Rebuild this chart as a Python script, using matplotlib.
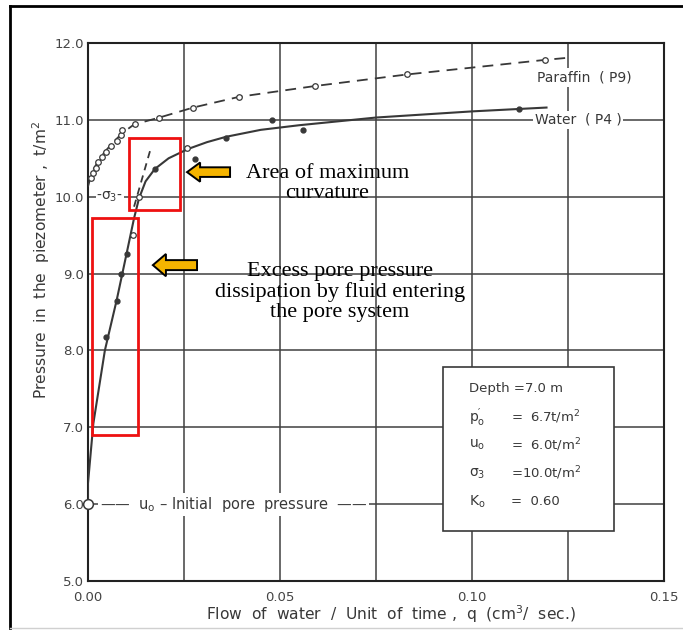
import matplotlib.pyplot as plt
from matplotlib.lines import Line2D
from matplotlib.patches import Rectangle, FancyArrow

# paraffin (P9) readings
par_x = [0.0007, 0.0013, 0.0020, 0.0027, 0.0036, 0.0048, 0.0060, 0.0075, 0.0087, 0.0089,
         0.0122, 0.0185, 0.0274, 0.0394, 0.0591, 0.0830, 0.1190]
par_y = [10.24, 10.31, 10.38, 10.45, 10.52, 10.58, 10.66, 10.73, 10.80, 10.87,
         10.95, 11.03, 11.16, 11.30, 11.44, 11.59, 11.78]
# hand drawn fit through the paraffin readings
par_line_x = [0.0, 0.0007, 0.0015, 0.0025, 0.0035, 0.0050, 0.0070, 0.0090, 0.0120,
              0.0186, 0.0274, 0.0394, 0.0591, 0.0830, 0.1190, 0.1255]
par_line_y = [10.13, 10.26, 10.36, 10.45, 10.53, 10.62, 10.73, 10.83, 10.94,
              11.03, 11.16, 11.30, 11.44, 11.59, 11.78, 11.81]

# water (P4) readings
wat_x = [0.0046, 0.0075, 0.0085, 0.0101, 0.0174, 0.0279, 0.0359, 0.0478, 0.0559, 0.1122]
wat_y = [8.18, 8.64, 9.00, 9.26, 10.36, 10.49, 10.76, 11.00, 10.87, 11.14]
wat_open_x = [0.0116, 0.0133, 0.0257]
wat_open_y = [9.50, 10.00, 10.64]
wat_line_x = [0.0, 0.0, 0.0014, 0.0044, 0.0075, 0.0101, 0.0120, 0.0133, 0.0150, 0.0174,
              0.0210, 0.0260, 0.0310, 0.0360, 0.0450, 0.0550, 0.0650, 0.0750, 0.1000, 0.1194]
wat_line_y = [6.00, 6.27, 7.05, 8.00, 8.66, 9.27, 9.72, 9.98, 10.20, 10.36,
              10.50, 10.62, 10.71, 10.78, 10.87, 10.93, 10.98, 11.03, 11.11, 11.16]
# initial linear branch extended (tangent)
tan_x = [0.0120, 0.0163]
tan_y = [9.87, 10.62]

u0 = 6.0
sigma3 = 10.0

xticks = [0.0, 0.05, 0.10, 0.15]
xticklabels = ['0.00', '0.05', '0.10', '0.15']
xgrid = [0.025, 0.075, 0.125]
yticks = [5, 6, 7, 8, 9, 10, 11, 12]
yticklabels = ['5.0', '6.0', '7.0', '8.0', '9.0', '10.0', '11.0', '12.0']

box_keys = [r'$\mathregular{p^{\prime}_o}$', r'$\mathregular{u_o}$',
            r'$\mathregular{\sigma_3}$', r'$\mathregular{K_o}$']
box_vals = [r'=  6.7t/m$\mathregular{^2}$', r'=  6.0t/m$\mathregular{^2}$',
            r'=10.0t/m$\mathregular{^2}$', '=  0.60']

ink = '#383838'
fnt = 'DejaVu Sans'

fig = plt.figure(figsize=(6.83, 6.33), dpi=100)
ax = fig.add_axes([0.1288, 0.0821, 0.8434, 0.8500])
ax.set_xlim(0, 0.15)
ax.set_ylim(5, 12)

ax.set_xticks(xticks)
ax.set_xticklabels(xticklabels)
ax.set_xticks(xgrid, minor=True)
ax.set_yticks(yticks)
ax.set_yticklabels(yticklabels)
ax.tick_params(which='both', length=0, colors='#444444', labelsize=9.5)
ax.tick_params(axis='x', pad=7)
ax.tick_params(axis='y', pad=3)
for lab in ax.get_xticklabels() + ax.get_yticklabels():
    lab.set_fontfamily(fnt)
ax.grid(which='both', color='#404040', lw=1.1, zorder=0)
ax.set_axisbelow(True)
for s in ax.spines.values():
    s.set_color('#222222')
    s.set_linewidth(1.5)

# curves
ax.plot(par_line_x, par_line_y, color=ink, lw=1.3, ls=(0, (6, 4)), zorder=3)
ax.plot(par_x, par_y, 'o', ms=4, mfc='white', mec=ink, mew=0.9, zorder=4)
ax.plot(wat_line_x, wat_line_y, color=ink, lw=1.5, zorder=3)
ax.plot(tan_x, tan_y, color=ink, lw=1.3, ls=(0, (4, 3)), zorder=3)
ax.plot(wat_x, wat_y, 'o', ms=3.5, color=ink, zorder=4)
ax.plot(wat_open_x, wat_open_y, 'o', ms=4, mfc='white', mec=ink, mew=0.9, zorder=4)
ax.plot([0], [u0], 'o', ms=7, mfc='white', mec=ink, mew=1.1, zorder=5, clip_on=False)

wb = dict(facecolor='white', edgecolor='none', pad=1.5)
ax.text(0.1292, 11.55, 'Paraffin  ( P9)', fontsize=10, family=fnt, color=ink,
        ha='center', va='center', bbox=wb, zorder=2)
ax.text(0.1276, 11.0, 'Water  ( P4 )', fontsize=10, family=fnt, color=ink,
        ha='center', va='center', bbox=wb, zorder=2)
ax.text(0.0022, sigma3, r'-$\mathregular{\sigma_3}$-', fontsize=10, family=fnt, color=ink,
        ha='left', va='center', bbox=dict(facecolor='white', edgecolor='none', pad=0.5), zorder=2)
ax.text(0.0031, u0, r'——  $\mathregular{u_o}$ – Initial  pore  pressure  ——', fontsize=10.5,
        family=fnt, color=ink, ha='left', va='center', bbox=wb, zorder=2)

# parameter box
ax.add_patch(Rectangle((0.0924, 5.65), 0.0446, 2.14, facecolor='white',
                       edgecolor=ink, lw=1.2, zorder=3))
ax.text(0.0992, 7.51, 'Depth =7.0 m', fontsize=9.5, family=fnt, color=ink,
        va='center', zorder=4)
row_y = [7.13, 6.77, 6.40, 6.03]
for k, v, yy in zip(box_keys, box_vals, row_y):
    ax.text(0.0992, yy, k, fontsize=10, family=fnt, color=ink, va='center', zorder=4)
    ax.text(0.1102, yy, v, fontsize=9.5, family=fnt, color=ink, va='center', zorder=4)

# highlighted regions
red = '#ee1111'
ax.add_patch(Rectangle((0.0107, 9.83), 0.0133, 0.93, fill=False, edgecolor=red, lw=2, zorder=6))
ax.add_patch(Rectangle((0.0010, 6.90), 0.0120, 2.82, fill=False, edgecolor=red, lw=2, zorder=6))

# callout arrows
gold = '#f5b400'
ax.add_patch(FancyArrow(0.0370, 10.32, -0.0112, 0, width=0.125, head_width=0.25,
                        head_length=0.0034, length_includes_head=True,
                        facecolor=gold, edgecolor='black', lw=1.4, zorder=7))
ax.add_patch(FancyArrow(0.0284, 9.11, -0.0115, 0, width=0.13, head_width=0.29,
                        head_length=0.0034, length_includes_head=True,
                        facecolor=gold, edgecolor='black', lw=1.4, zorder=7))

serif = 'Liberation Serif'
ax.text(0.0623, 10.17, 'Area of maximum\ncurvature', fontsize=16, family=serif,
        ha='center', va='center', linespacing=1.1, zorder=7)
ax.text(0.0656, 8.76, 'Excess pore pressure\ndissipation by fluid entering\nthe pore system',
        fontsize=16, family=serif, ha='center', va='center', linespacing=1.1, zorder=7)

fig.text(0.573, 0.030, r'Flow  of  water  /  Unit  of  time ,  q  (cm$\mathregular{^3}$/  sec.)',
         fontsize=11.2, family=fnt, color=ink, ha='center', va='center')
fig.text(0.060, 0.59, r'Pressure  in  the  piezometer ,  t/m$\mathregular{^2}$', fontsize=11.2,
         family=fnt, color=ink, ha='center', va='center', rotation=90)

# outer frame
fig.add_artist(Line2D([10 / 683, 10 / 683], [1 - 6 / 633, 1 - 628 / 633],
                      transform=fig.transFigure, color='black', lw=2))
fig.add_artist(Line2D([10 / 683, 1.0], [1 - 6 / 633, 1 - 6 / 633],
                      transform=fig.transFigure, color='black', lw=2))
fig.add_artist(Line2D([10 / 683, 1.0], [1 - 628 / 633, 1 - 628 / 633],
                      transform=fig.transFigure, color='#d0d0d0', lw=1))

fig.savefig('out.png', dpi=100)
